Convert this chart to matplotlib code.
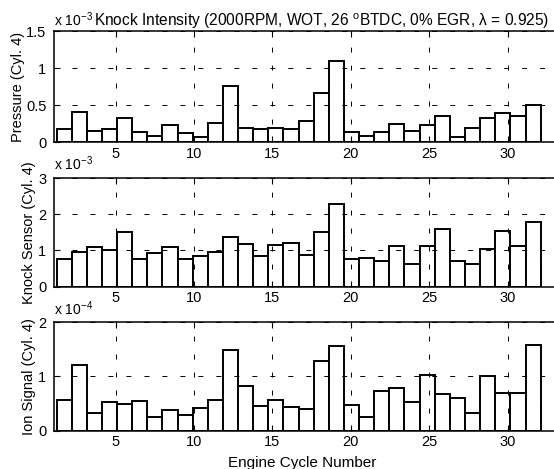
import numpy as np
import matplotlib
matplotlib.use("Agg")
import matplotlib.pyplot as plt

plt.rcParams['font.family'] = ['Liberation Sans', 'DejaVu Sans']
plt.rcParams['mathtext.fontset'] = 'custom'
plt.rcParams['mathtext.rm'] = 'Liberation Sans'
plt.rcParams['mathtext.it'] = 'Liberation Sans'

# ---- data ----
cycles = list(range(1, 34))
pressure = [0.17, 0.40, 0.155, 0.18, 0.33, 0.13, 0.08, 0.23, 0.12, 0.07,
            0.26, 0.755, 0.195, 0.17, 0.195, 0.17, 0.28, 0.66, 1.09, 0.13,
            0.08, 0.14, 0.25, 0.145, 0.23, 0.355, 0.07, 0.19, 0.33, 0.388,
            0.345, 0.495, 0.13]            # x 1e-3
knock = [0.75, 0.95, 1.08, 1.02, 1.51, 0.75, 0.94, 1.08, 0.77, 0.83,
         0.95, 1.36, 1.17, 0.84, 1.16, 1.20, 0.86, 1.50, 2.28, 0.77,
         0.80, 0.71, 1.13, 0.63, 1.11, 1.58, 0.71, 0.61, 1.04, 1.54,
         1.12, 1.79, 0.67]                 # x 1e-3
ion = [0.56, 1.20, 0.32, 0.53, 0.485, 0.54, 0.25, 0.37, 0.29, 0.41,
       0.56, 1.49, 0.82, 0.455, 0.56, 0.425, 0.395, 1.28, 1.56, 0.47,
       0.245, 0.72, 0.78, 0.53, 1.03, 0.68, 0.60, 0.325, 1.0, 0.70,
       0.685, 1.57, 0.49]                  # x 1e-4

ylabels = ["Pressure (Cyl. 4)", "Knock Sensor (Cyl. 4)", "Ion Signal (Cyl. 4)"]
exponents = [r"x 10$^{-3}$", r"x 10$^{-3}$", r"x 10$^{-4}$"]
ylims = [1.5, 3, 2]
yticks = [[0, 0.5, 1, 1.5], [0, 1, 2, 3], [0, 1, 2]]
yticklabels = [["0", "0.5", "1", "1.5"], ["0", "1", "2", "3"], ["0", "1", "2"]]
xticks = [5, 10, 15, 20, 25, 30]
title = r"Knock Intensity (2000RPM, WOT, 26 $^{\mathrm{o}}$BTDC, 0% EGR, λ = 0.925)"
xlabel = "Engine Cycle Number"

# ---- layout ----
W, H = 554, 469
fig = plt.figure(figsize=(W / 100, H / 100), dpi=100)
left = 54 / W
width = 532.2 / W
boxes = [(31, 142), (178, 286.5), (322, 430.5)]
label_x = [-0.0545, -0.034, -0.034]
exp_off = [3.6, 5.8, 5.0]

step = 0.9643
x_left = 1.24 + step * (np.array(cycles) - 1)
widths = np.full(len(cycles), step)
widths[-1] = 0.03

axes = []
for k, (vals, (t, b)) in enumerate(zip([pressure, knock, ion], boxes)):
    ax = fig.add_axes([left, 1 - b / H, width, (b - t) / H])
    ax.bar(x_left, vals, width=widths, align='edge', color='white',
           edgecolor='black', linewidth=1.4, zorder=1)
    ax.set_xlim(1.08, 35)
    ax.set_ylim(0, ylims[k])
    ax.set_yticks(yticks[k])
    ax.set_yticklabels(yticklabels[k])
    ax.set_xticks(xticks)
    ax.tick_params(direction='in', length=4, width=0.8, top=True, right=False,
                   labelsize=10.5, pad=5.5, axis='y')
    ax.tick_params(direction='in', length=4, width=0.8, top=True,
                   labelsize=10.5, pad=3.5, axis='x')
    ax.grid(True, color='black', linewidth=0.7, linestyle=(0, (5.1, 13.4)))
    for s in ax.spines.values():
        s.set_linewidth(1.1)
    ax.set_ylabel(ylabels[k], fontsize=10.5)
    ax.yaxis.set_label_coords(label_x[k], 0.5)
    ax.annotate(exponents[k], xy=(0, 1), xycoords='axes fraction',
                xytext=(0, exp_off[k]), textcoords='offset points',
                ha='left', va='baseline', fontsize=10)
    axes.append(ax)

fig.text(94 / W, 1 - 26 / H, title, ha='left', va='baseline', fontsize=11.2)
axes[-1].set_xlabel(xlabel, fontsize=11)
axes[-1].xaxis.set_label_coords(0.466, -0.235)

fig.savefig("out.png", dpi=100)
